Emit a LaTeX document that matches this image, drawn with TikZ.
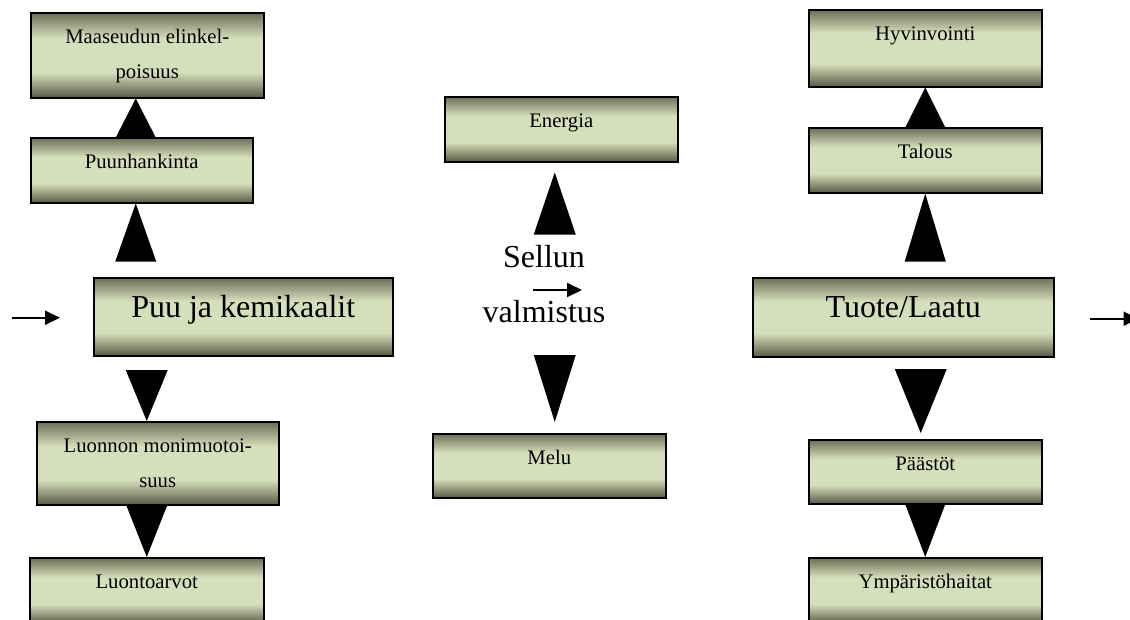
\documentclass[tikz,border=0pt]{standalone}
\usepackage{fontspec}
\setmainfont{Liberation Serif}
\usetikzlibrary{calc,arrows.meta}
\definecolor{olivetop}{HTML}{6C6E57}
\definecolor{olivebottom}{HTML}{585A45}
\definecolor{olivelight}{HTML}{D6DFBB}
\pgfdeclareverticalshading{boxshade}{100bp}{color(0bp)=(olivebottom); color(25bp)=(olivebottom); color(40bp)=(olivelight); color(60bp)=(olivelight); color(75bp)=(olivetop); color(100bp)=(olivetop)}

\begin{document}
\begin{tikzpicture}[%
x=1pt,y=-1pt,
box/.style={draw=black,line width=1.5pt,shading=boxshade,inner sep=0pt,align=center,anchor=north west,font=\fontsize{20.7}{35}\selectfont,text height=31pt},
bigbox/.style={box,font=\fontsize{32}{38}\selectfont,text height=40pt},
tri/.style={fill=black},
flow/.style={line width=2pt,-{Triangle[length=15pt,width=14pt]}},
]
\useasboundingbox (0,0) rectangle (1130,619);
\clip (0,0) rectangle (1130,619);
%% left column;
\node[box,minimum width=233pt,text height=66pt,text depth=19pt] (maaseutu) at (30,12) {Maaseudun elinkel-\\poisuus};
\node[box,minimum width=222pt,text depth=34pt] (puunhankinta) at (30,137) {Puunhankinta};
\node[bigbox,minimum width=299pt,text depth=38pt] (puu) at (93,277) {Puu ja kemikaalit};
\node[box,minimum width=242pt,text height=66pt,text depth=17pt] (monimuoto) at (36,421) {Luonnon monimuotoi-\\suus};
\node[box,minimum width=234pt,text depth=35pt] (luontoarvot) at (29,557) {Luontoarvot};
%% middle column;
\node[box,minimum width=233pt,text depth=34pt] (energia) at (444,96) {Energia};
\node[font=\fontsize{32}{55}\selectfont,align=center] (sellu) at (544,284) {Sellun\\valmistus};
\node[box,minimum width=233pt,text depth=33pt] (melu) at (432,433) {Melu};
%% right column;
\node[box,minimum width=233pt,text depth=46pt] (hyvinvointi) at (808,9) {Hyvinvointi};
\node[box,minimum width=233pt,text depth=34pt] (talous) at (808,127) {Talous};
\node[bigbox,minimum width=301pt,text depth=39pt] (tuote) at (752,277) {Tuote/Laatu};
\node[box,minimum width=233pt,text depth=33pt] (paastot) at (808,439) {Päästöt};
\node[box,minimum width=233pt,text depth=35pt] (ymparisto) at (808,557) {Ympäristöhaitat};
%% triangles up;
\fill[tri] ([xshift=-11.5pt]maaseutu.south) -- ++(-20.5,40) -- ++(41,0) -- cycle;
\fill[tri] ([xshift=-6pt]puunhankinta.south) -- ++(-20.5,58) -- ++(41,0) -- cycle;
\fill[tri] ($(energia.south)+(-6.5,10)$) -- ++(-21,62) -- ++(42,0) -- cycle;
\fill[tri] (hyvinvointi.south) -- ++(-20.5,41) -- ++(41,0) -- cycle;
\fill[tri] (talous.south) -- ++(-20.5,68) -- ++(41,0) -- cycle;
%% triangles down;
\fill[tri] ([xshift=-11pt]monimuoto.north) -- ++(-21,-51) -- ++(42,0) -- cycle;
\fill[tri] (luontoarvot.north) -- ++(-21,-53) -- ++(42,0) -- cycle;
\fill[tri] ($(melu.north)+(5.5,-11)$) -- ++(-21,-67) -- ++(42,0) -- cycle;
\fill[tri] ($(paastot.north)+(-4.5,-6)$) -- ++(-26,-64) -- ++(52,0) -- cycle;
\fill[tri] (ymparisto.north) -- ++(-20.5,-54) -- ++(41,0) -- cycle;
%% arrows;
\draw[flow] ($(puu.west)+(-81,1)$) -- ($(puu.west)+(-33,1)$);
\draw[flow] ($(sellu.center)+(-11,6)$) -- ($(sellu.center)+(38,6)$);
\draw[flow] ($(tuote.east)+(35,1.5)$) -- ($(tuote.east)+(84,1.5)$);
\end{tikzpicture}
\end{document}
